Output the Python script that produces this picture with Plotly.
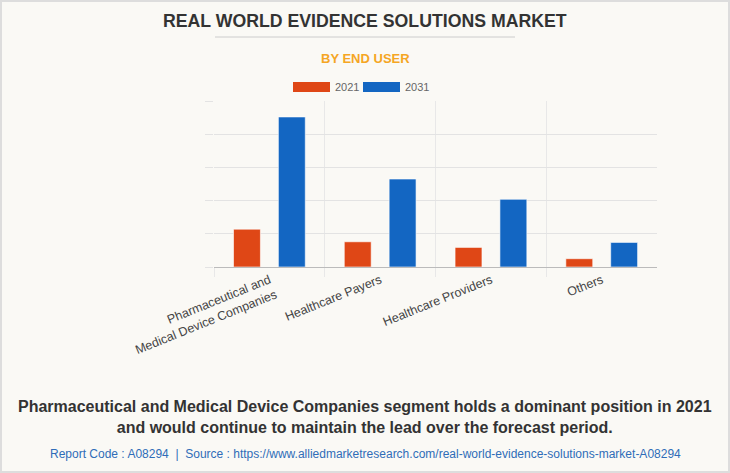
import plotly.graph_objects as go

categories = ["Pharmaceutical and<br>Medical Device Companies", "Healthcare Payers",
              "Healthcare Providers", "Others"]
series_names = ["2021", "2031"]
values_2021 = [1.14, 0.76, 0.59, 0.25]
values_2031 = [4.52, 2.65, 2.04, 0.74]
colors = ["#DF4716", "#1366C2"]

W, H = 730, 473
L, R, T, B = 214, 657, 101, 267  # plot area in pixels


def px(x):
    return (x - L) / (R - L)


def py(y):
    return (B - y) / (B - T)


fig = go.Figure()
for name, vals, col in zip(series_names, [values_2021, values_2031], colors):
    fig.add_trace(go.Bar(x=categories, y=vals, name=name, marker_color=col,
                         marker_line=dict(color="rgba(255,255,255,0.6)", width=1),
                         showlegend=False))

bg = "#FAF9F5"
annotations = [
    dict(text="<b>REAL WORLD EVIDENCE SOLUTIONS MARKET</b>", x=px(365), y=py(21),
         font=dict(size=17.7, color="#333333", family="Liberation Sans"), showarrow=False),
    dict(text="<b>BY END USER</b>", x=px(365), y=py(58),
         font=dict(size=13, color="#F5A623", family="Liberation Sans"), showarrow=False),
    dict(text=series_names[0], x=px(333), y=py(87), xanchor="left",
         font=dict(size=11, color="#666666", family="Liberation Sans"), showarrow=False),
    dict(text=series_names[1], x=px(403), y=py(87), xanchor="left",
         font=dict(size=11, color="#666666", family="Liberation Sans"), showarrow=False),
    dict(text="<b>Pharmaceutical and Medical Device Companies segment holds a dominant position in 2021<br>"
              "and would continue to maintain the lead over the forecast period.</b>",
         x=px(365), y=py(417), font=dict(size=16, color="#333333", family="Liberation Sans"),
         showarrow=False, align="center"),
    dict(text="Report Code : A08294  |  Source : https://www.alliedmarketresearch.com/real-world-evidence-solutions-market-A08294",
         x=px(365), y=py(454), font=dict(size=12, color="#2F6DB8", family="Liberation Sans"),
         showarrow=False),
]
for a in annotations:
    a.setdefault("xref", "paper")
    a.setdefault("yref", "paper")
    a.setdefault("xanchor", "center")
    a.setdefault("yanchor", "middle")

shapes = [
    dict(type="line", xref="paper", yref="paper", x0=px(215), x1=px(515), y0=py(37), y1=py(37),
         line=dict(color="#CCCCCC", width=1)),
    dict(type="rect", xref="paper", yref="paper", x0=px(293), x1=px(330), y0=py(82), y1=py(92),
         fillcolor=colors[0], line=dict(width=0)),
    dict(type="rect", xref="paper", yref="paper", x0=px(363), x1=px(400), y0=py(82), y1=py(92),
         fillcolor=colors[1], line=dict(width=0)),
    dict(type="rect", xref="paper", yref="paper", x0=px(1), x1=px(729), y0=py(1), y1=py(472),
         line=dict(color="#DDDDDD", width=2), fillcolor="rgba(0,0,0,0)"),
]

fig.update_layout(
    width=W, height=H,
    margin=dict(l=L, r=W - R, t=T, b=H - B, pad=0),
    paper_bgcolor=bg, plot_bgcolor=bg,
    barmode="group", bargap=0.19, bargroupgap=0.4,
    font=dict(family="Liberation Sans", color="#444444"),
    annotations=annotations, shapes=shapes,
    xaxis=dict(tickson="boundaries", showgrid=True, gridcolor="#E8E8E8", ticks="outside",
               ticklen=9, tickcolor="#E8E8E8", tickangle=-22, range=[-0.5, 3.499],
               tickfont=dict(size=12.5, color="#444444"), showline=True, linecolor="#BBBBBB",
               linewidth=1),
    yaxis=dict(range=[0, 5], dtick=1, showgrid=True, gridcolor="#E3E3E3", showticklabels=False,
               ticks="outside", ticklen=8, tickcolor="#E3E3E3", zeroline=False),
)

fig.write_html("out.html", config={"displayModeBar": False},
               post_script="document.body.style.margin='0';")
